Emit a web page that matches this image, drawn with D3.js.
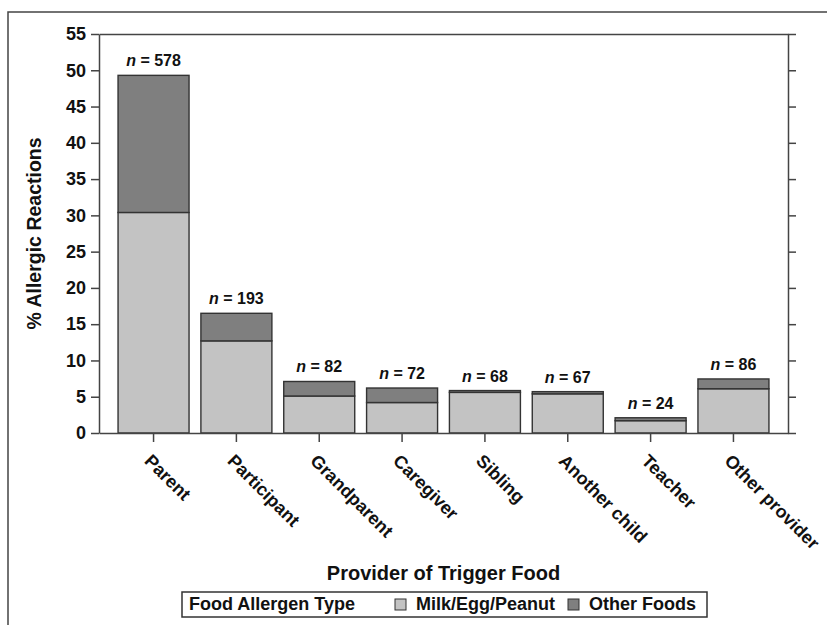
<!DOCTYPE html>
<html>
<head>
<meta charset="utf-8">
<script src="https://cdn.jsdelivr.net/npm/d3@7"></script>
<style>
  body { margin: 0; background: #fff; }
  svg { font-family: "Liberation Sans", Arial, sans-serif; }
</style>
</head>
<body>
<div id="chart"></div>
<script>
// data
var providers = ["Parent", "Participant", "Grandparent", "Caregiver", "Sibling", "Another child", "Teacher", "Other provider"];
var nCounts = [578, 193, 82, 72, 68, 67, 24, 86];
var milkEggPeanut = [30.4, 12.7, 5.1, 4.2, 5.6, 5.4, 1.7, 6.1];
var otherFoods = [18.9, 3.8, 2.0, 2.0, 0.25, 0.3, 0.4, 1.35];
var yTicks = [0, 5, 10, 15, 20, 25, 30, 35, 40, 45, 50, 55];
var seriesNames = ["Milk/Egg/Peanut", "Other Foods"];

var width = 827, height = 625;
var margin = {top: 34, right: 39, bottom: 192, left: 99};
var colors = ["#c3c3c3", "#7f7f7f"];
var ink = "#333";

var svg = d3.select("#chart").append("svg")
  .attr("width", width)
  .attr("height", height);

// outer frame (only top and left edges are visible)
svg.append("path")
  .attr("d", "M8,625V12H827")
  .attr("fill", "none")
  .attr("stroke", "#444")
  .attr("stroke-width", 1.5);

var x = d3.scaleBand()
  .domain(providers)
  .range([margin.left, width - margin.right])
  .paddingInner(0.143)
  .paddingOuter(0.23);

var y = d3.scaleLinear()
  .domain([0, 55])
  .range([height - margin.bottom, margin.top]);

// stacked data
var rows = providers.map(function (p, i) {
  return {provider: p, n: nCounts[i], a: milkEggPeanut[i], b: otherFoods[i]};
});
var stack = d3.stack().keys(["a", "b"])(rows);

var g = svg.append("g");

g.selectAll("g.layer")
  .data(stack)
  .enter()
  .append("g")
  .attr("class", "layer")
  .attr("fill", function (d, i) { return colors[i]; })
  .selectAll("rect")
  .data(function (d) { return d; })
  .enter()
  .append("rect")
  .attr("x", function (d) { return x(d.data.provider); })
  .attr("width", x.bandwidth())
  .attr("y", function (d) { return y(d[1]); })
  .attr("height", function (d) { return y(d[0]) - y(d[1]); })
  .attr("stroke", ink)
  .attr("stroke-width", 1.4);

// n = ... labels
var nLab = g.selectAll("text.nlab")
  .data(rows)
  .enter()
  .append("text")
  .attr("class", "nlab")
  .attr("x", function (d) { return x(d.provider) + x.bandwidth() / 2; })
  .attr("y", function (d) { return y(d.a + d.b) - 9; })
  .attr("text-anchor", "middle")
  .attr("font-size", 16)
  .attr("font-weight", "bold")
  .attr("fill", "#111");
nLab.append("tspan").attr("font-style", "italic").text("n");
nLab.append("tspan").text(function (d) { return " = " + d.n; });

// axes
var left = svg.append("g")
  .attr("transform", "translate(" + margin.left + ",0)")
  .call(d3.axisLeft(y).tickValues(yTicks).tickSize(8).tickPadding(5).tickSizeOuter(0));
left.selectAll("text").attr("font-size", 18).attr("font-weight", "bold").attr("fill", "#111");

var right = svg.append("g")
  .attr("transform", "translate(" + (width - margin.right) + ",0)")
  .call(d3.axisRight(y).tickValues(yTicks).tickSize(8).tickFormat("").tickSizeOuter(0));

var top = svg.append("g")
  .attr("transform", "translate(0," + margin.top + ")")
  .call(d3.axisTop(x).tickValues([]).tickSizeOuter(0));

var bottom = svg.append("g")
  .attr("transform", "translate(0," + (height - margin.bottom) + ")")
  .call(d3.axisBottom(x).tickSize(9).tickSizeOuter(0));
bottom.selectAll("text")
  .attr("font-size", 18)
  .attr("font-weight", "bold")
  .attr("fill", "#111")
  .attr("text-anchor", "start")
  .attr("x", 0)
  .attr("y", 0)
  .attr("dy", 0)
  .attr("transform", "translate(-10,29) rotate(45)");

svg.selectAll(".domain, .tick line").attr("stroke", "#444").attr("stroke-width", 1.5);

// axis titles
svg.append("text")
  .attr("transform", "translate(41," + ((margin.top + height - margin.bottom) / 2) + ") rotate(-90)")
  .attr("text-anchor", "middle")
  .attr("font-size", 19.5)
  .attr("font-weight", "bold")
  .attr("fill", "#111")
  .text("% Allergic Reactions");

svg.append("text")
  .attr("x", (margin.left + width - margin.right) / 2)
  .attr("y", 580)
  .attr("text-anchor", "middle")
  .attr("font-size", 20)
  .attr("font-weight", "bold")
  .attr("fill", "#111")
  .text("Provider of Trigger Food");

// legend
var lg = svg.append("g").attr("transform", "translate(182,592)");
lg.append("rect")
  .attr("width", 525).attr("height", 25)
  .attr("fill", "#fff").attr("stroke", "#333").attr("stroke-width", 1.5);
lg.append("text")
  .attr("x", 7).attr("y", 18)
  .attr("font-size", 18).attr("font-weight", "bold").attr("fill", "#111")
  .text("Food Allergen Type");
var itemX = [213, 386];
seriesNames.forEach(function (s, i) {
  lg.append("rect")
    .attr("x", itemX[i]).attr("y", 7)
    .attr("width", 11).attr("height", 11)
    .attr("fill", colors[i]).attr("stroke", ink).attr("stroke-width", 1);
  lg.append("text")
    .attr("x", itemX[i] + 21).attr("y", 18)
    .attr("font-size", 18).attr("font-weight", "bold").attr("fill", "#111")
    .text(s);
});
</script>
</body>
</html>
